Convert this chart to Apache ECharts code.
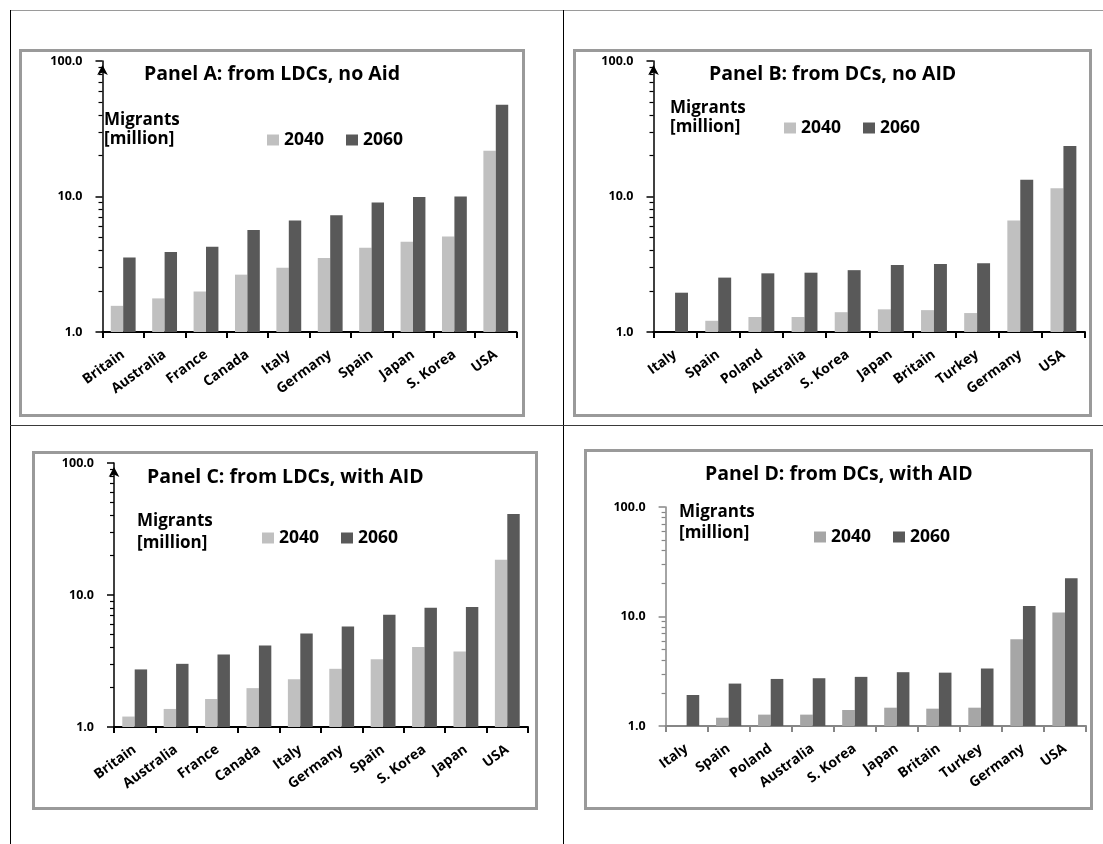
<!DOCTYPE html>
<html>
<head>
<meta charset="utf-8">
<script src="https://cdn.jsdelivr.net/npm/echarts@6/dist/echarts.min.js"></script>
<style>
  html, body { margin: 0; padding: 0; background: #fff; }
  #page { position: relative; width: 1103px; height: 844px; overflow: hidden; background: #fff; }
  .layer { position: absolute; left: 0; top: 0; width: 1103px; height: 844px; }
  .rule, .frame { position: absolute; box-sizing: border-box; }
  .frame { border: 3px solid #9a9a9a; }
</style>
</head>
<body>
<div id="page"></div>
<script>
// Destination countries, ordered as in each panel
const countriesLdcA = ['Britain', 'Australia', 'France', 'Canada', 'Italy', 'Germany', 'Spain', 'Japan', 'S. Korea', 'USA'];
const countriesDcB  = ['Italy', 'Spain', 'Poland', 'Australia', 'S. Korea', 'Japan', 'Britain', 'Turkey', 'Germany', 'USA'];
const countriesLdcC = ['Britain', 'Australia', 'France', 'Canada', 'Italy', 'Germany', 'Spain', 'S. Korea', 'Japan', 'USA'];
const countriesDcD  = ['Italy', 'Spain', 'Poland', 'Australia', 'S. Korea', 'Japan', 'Britain', 'Turkey', 'Germany', 'USA'];

// Migrants in millions (null = below the 1.0 floor of the log axis)
const panelA2040 = [1.56, 1.77, 1.99, 2.65, 2.98, 3.51, 4.19, 4.63, 5.07, 21.8];
const panelA2060 = [3.55, 3.89, 4.26, 5.65, 6.65, 7.28, 9.03, 9.9, 10.0, 47.6];
const panelB2040 = [null, 1.21, 1.29, 1.29, 1.40, 1.47, 1.45, 1.38, 6.65, 11.5];
const panelB2060 = [1.95, 2.52, 2.71, 2.74, 2.86, 3.12, 3.17, 3.21, 13.3, 23.6];
const panelC2040 = [1.20, 1.37, 1.63, 1.97, 2.30, 2.76, 3.26, 4.03, 3.73, 18.5];
const panelC2060 = [2.73, 3.01, 3.54, 4.15, 5.11, 5.78, 7.09, 8.01, 8.11, 41.0];
const panelD2040 = [null, 1.19, 1.27, 1.27, 1.40, 1.47, 1.44, 1.47, 6.20, 10.9];
const panelD2060 = [1.92, 2.44, 2.69, 2.73, 2.81, 3.10, 3.07, 3.35, 12.5, 22.4];

const seriesNames = ['2040', '2060'];
const panelTitles = [
  'Panel A: from LDCs, no Aid',
  'Panel B: from DCs, no AID',
  'Panel C: from LDCs, with AID',
  'Panel D: from DCs, with AID'
];
const unitLines = ['Migrants', '[million]'];

const FONT = '"Open Sans", "Noto Sans", sans-serif';
const LIGHT = '#c0c0c0';
const LIGHT_D = '#a6a6a6';
const DARK = '#595959';

// Layout of each panel on the page (page pixels)
const panels = [
  { cats: countriesLdcA, s40: panelA2040, s60: panelA2060, grid: { left: 102.5, top: 61, width: 414, height: 271 },
    frame: [19, 49, 506, 368], title: [144, 62], unit: [104, 111, 19], legend: [267, 131], axisColor: '#000', arrow: true, c40: LIGHT },
  { cats: countriesDcB, s40: panelB2040, s60: panelB2060, grid: { left: 653.5, top: 61, width: 431.5, height: 271 },
    frame: [573, 49, 519, 368], title: [709, 62], unit: [670, 99, 19], legend: [784, 119], axisColor: '#000', arrow: true, c40: LIGHT },
  { cats: countriesLdcC, s40: panelC2040, s60: panelC2060, grid: { left: 114, top: 463, width: 414, height: 264 },
    frame: [32, 451, 506, 359], title: [147, 465], unit: [137, 510, 22], legend: [262, 529], axisColor: '#000', arrow: true, c40: LIGHT },
  { cats: countriesDcD, s40: panelD2040, s60: panelD2060, grid: { left: 665.6, top: 507, width: 420.4, height: 219 },
    frame: [584, 449, 509, 361], title: [705, 462], unit: [679, 501.5, 21], legend: [814, 528], axisColor: '#868686', arrow: false, c40: LIGHT_D }
];

const page = document.getElementById('page');

// Page rules separating the four panels, and the panel frames
function addBox(cls, x, y, w, h, css) {
  const d = document.createElement('div');
  d.className = cls;
  Object.assign(d.style, { left: x + 'px', top: y + 'px', width: w + 'px', height: h + 'px' }, css || {});
  page.appendChild(d);
}
addBox('rule', 10, 10, 1093, 1, { background: '#9a9a9a' });
addBox('rule', 10, 10, 1, 834, { background: '#000' });
addBox('rule', 563, 10, 1, 834, { background: '#000' });
addBox('rule', 10, 425, 1093, 1, { background: '#3a3a3a' });
panels.forEach(p => addBox('frame', p.frame[0], p.frame[1], p.frame[2], p.frame[3]));

// One transparent chart layer per panel
panels.forEach((p, i) => {
  const layer = document.createElement('div');
  layer.className = 'layer';
  page.appendChild(layer);
  const chart = echarts.init(layer, null, { renderer: 'canvas' });

  chart.setOption({
    animation: false,
    backgroundColor: 'transparent',
    title: [
      {
        text: panelTitles[i], left: p.title[0], top: p.title[1], padding: 0,
        textStyle: { color: '#000', fontFamily: FONT, fontWeight: 'bold', fontSize: 19.5, lineHeight: 24 }
      },
      {
        text: unitLines.join('\n'), left: p.unit[0], top: p.unit[1], padding: 0,
        textStyle: { color: '#000', fontFamily: FONT, fontWeight: 'bold', fontSize: 17, lineHeight: p.unit[2] }
      }
    ],
    grid: [Object.assign({ containLabel: false }, p.grid)],
    xAxis: [{
      type: 'category', data: p.cats,
      axisLine: { lineStyle: { color: p.axisColor, width: 2 } },
      axisTick: { show: true, length: 6, lineStyle: { color: p.axisColor, width: 2 } },
      axisLabel: { rotate: 36, interval: 0, margin: 21, color: '#000', fontFamily: FONT, fontWeight: 'bold', fontSize: 14 }
    }],
    // log axis: decade ticks with labels, minor ticks at 2..9 of each decade
    yAxis: [{
      type: 'log', logBase: 10, min: 1, max: 100,
      axisLine: {
        show: true, lineStyle: { color: p.axisColor, width: 1.5 },
        symbol: p.arrow ? ['none', 'arrow'] : ['none', 'none'], symbolSize: [8, 10], symbolOffset: [0, -4]
      },
      axisTick: { show: true, length: 7, lineStyle: { color: p.axisColor, width: 1.5 } },
      minorTick: { show: true, splitNumber: 9, length: 4, lineStyle: { color: p.axisColor, width: 1.2 } },
      axisLabel: {
        formatter: v => Number(v).toFixed(1), margin: 20,
        color: '#000', fontFamily: FONT, fontWeight: 'bold', fontSize: 12.5
      },
      splitLine: { show: false }
    }],
    legend: [{
      left: p.legend[0], top: p.legend[1], padding: 0, icon: 'rect',
      itemWidth: 12, itemHeight: 11, itemGap: 22, selectedMode: false,
      data: [{ name: seriesNames[0], itemStyle: { color: p.c40 } }, { name: seriesNames[1], itemStyle: { color: DARK } }],
      textStyle: { color: '#000', fontFamily: FONT, fontWeight: 'bold', fontSize: 17.5 }
    }],
    series: [
      { name: seriesNames[0], type: 'bar', data: p.s40, barGap: '0%', barCategoryGap: '40%', itemStyle: { color: p.c40 } },
      { name: seriesNames[1], type: 'bar', data: p.s60, barGap: '0%', barCategoryGap: '40%', itemStyle: { color: DARK } }
    ]
  });
});
</script>
</body>
</html>
